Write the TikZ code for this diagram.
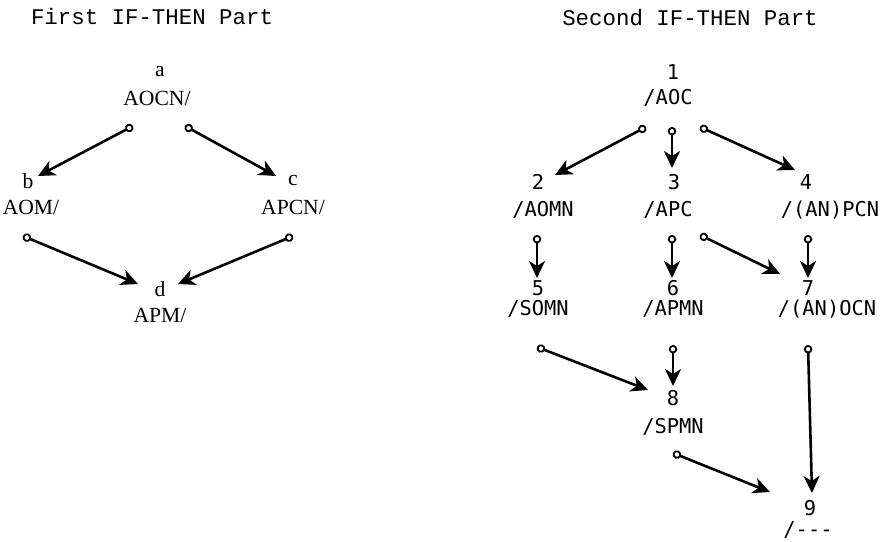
\documentclass[tikz,border=0pt]{standalone}
\usepackage{fontspec}
\usetikzlibrary{arrows.meta}
\usetikzlibrary{calc}
\newfontfamily\titlefont{Liberation Mono}
\newfontfamily\leftfont{Liberation Serif}
\newfontfamily\rightfont{DejaVu Sans Mono}

\begin{document}
\begin{tikzpicture}[x=0.5pt,y=-0.5pt,
  title/.style={font=\titlefont\fontsize{11.2}{13}\selectfont, inner sep=0pt},
  lnode/.style={font=\leftfont\fontsize{10.8}{12}\selectfont, inner sep=0pt},
  rnode/.style={font=\rightfont\fontsize{10.2}{12}\selectfont, inner sep=0pt},
  link/.style={line width=1.3pt,
    {Circle[open,length=4.2pt,width=4.2pt,line width=0.9pt]}-{Stealth[length=8.5pt,width=8pt,inset=2.5pt]}}]
\useasboundingbox (0,0) rectangle (893,541);
%\draw [help lines,step=50] (0,0) grid (893,541);

\node[title] (first)  at (152,16) {First IF-THEN Part};
\node[title] (second) at (690,18) {Second IF-THEN Part};

% First part
\node[lnode] (na) at (160,72)  {a};
\node[lnode] (ta) at (157,98)  {AOCN/};
\node[lnode] (nb) at (28,181)  {b};
\node[lnode] (tb) at (31,207)  {AOM/};
\node[lnode] (nc) at (293,181) {c};
\node[lnode] (tc) at (293,207) {APCN/};
\node[lnode] (nd) at (160,289) {d};
\node[lnode] (td) at (160,315) {APM/};

% Second part
\node[rnode] (n1) at (673,72)  {1};
\node[rnode] (t1) at (668,98)  {/AOC};
\node[rnode] (n2) at (538,182) {2};
\node[rnode] (t2) at (543,210) {/AOMN};
\node[rnode] (n3) at (674,182) {3};
\node[rnode] (t3) at (668,210) {/APC};
\node[rnode] (n4) at (806,182) {4};
\node[rnode] (t4) at (830,210) {/(AN)PCN};
\node[rnode] (n5) at (538,288) {5};
\node[rnode] (t5) at (538,309) {/SOMN};
\node[rnode] (n6) at (673,288) {6};
\node[rnode] (t6) at (673,309) {/APMN};
\node[rnode] (n7) at (808,288) {7};
\node[rnode] (t7) at (827,309) {/(AN)OCN};
\node[rnode] (n8) at (673,398) {8};
\node[rnode] (t8) at (673,427) {/SPMN};
\node[rnode] (n9) at (810,508) {9};
\node[rnode] (t9) at (808,530) {/---};

% Edges
\draw[link] ($(ta)+(-24,28)$) -- ($(nb)+(10,-5)$);
\draw[link] ($(ta)+(28,28)$)  -- ($(nc)+(-17,-5)$);
\draw[link] ($(tb)+(-8,29)$)  -- ($(nd)+(-22,-5)$);
\draw[link] ($(tc)+(0,29)$)   -- ($(nd)+(18,-5)$);

\draw[link] ($(t1)+(-22,29)$) -- ($(n2)+(17,-7)$);
\draw[link] ($(t1)+(4,29)$)   -- ($(n3)+(-2,-14)$);
\draw[link] ($(t1)+(32,29)$)  -- ($(n4)+(-11,-12)$);
\draw[link] ($(t2)+(-6,25)$)  -- ($(n5)+(-1,-10)$);
\draw[link] ($(t3)+(4,25)$)   -- ($(n6)+(-1,-10)$);
\draw[link] ($(t3)+(32,25)$)  -- ($(n7)+(-28,-14)$);
\draw[link] ($(t4)+(-22,25)$) -- ($(n7)+(0,-10)$);
\draw[link] ($(t5)+(-1,38)$)  -- ($(n8)+(-25,-8)$);
\draw[link] ($(t6)+(0,36)$)   -- ($(n8)+(0,-12)$);
\draw[link] ($(t7)+(-19,36)$) -- ($(n9)+(2,-15)$);
\draw[link] ($(t8)+(0,26)$)   -- ($(n9)+(-40,-16)$);

\end{tikzpicture}
\end{document}
